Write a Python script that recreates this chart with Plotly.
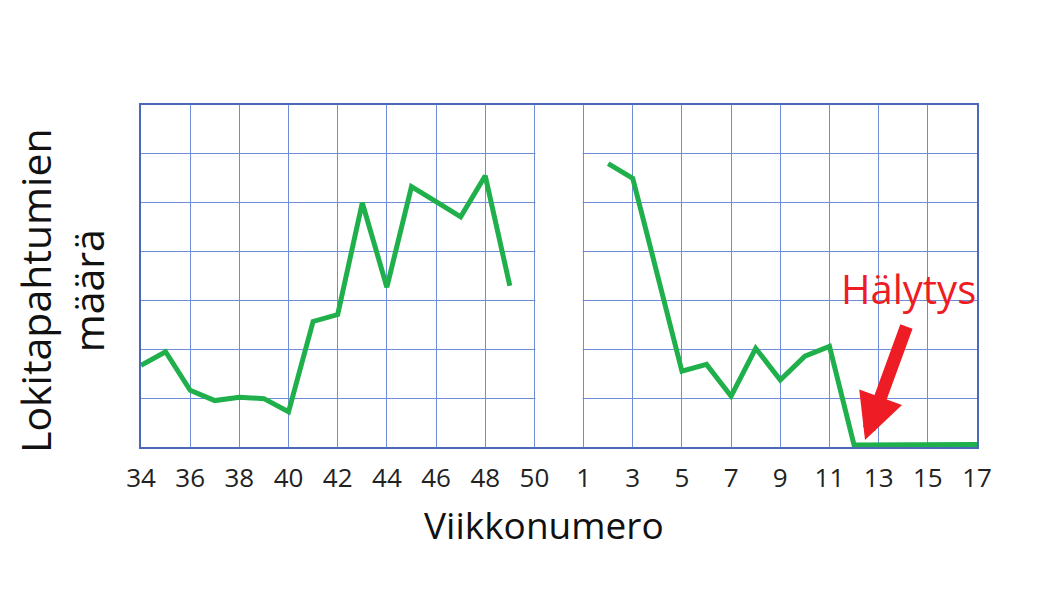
import plotly.graph_objects as go

# Axis categories (week numbers in order shown on the axis)
axis_weeks = [str(w) for w in range(34, 52)] + [str(w) for w in range(1, 18)]
tick_labels = [str(w) for w in range(34, 51, 2)] + [str(w) for w in range(1, 18, 2)]

# Series: log events per week (two seasons separated by a gap)
weeks_a = [str(w) for w in range(34, 50)]
values_a = [1.67, 1.95, 1.16, 0.95, 1.02, 0.99, 0.72, 2.57, 2.71, 5.0, 3.27,
            5.33, 5.02, 4.71, 5.55, 3.3]
weeks_b = [str(w) for w in range(2, 18)]
values_b = [5.8, 5.5, 3.53, 1.55, 1.69, 1.04, 2.02, 1.37, 1.86, 2.06,
            0.04, 0.04, 0.04, 0.05, 0.05, 0.05]

x_all = weeks_a + ["50"] + weeks_b
y_all = values_a + [None] + values_b

GREEN = "#1fb04c"
GRID = "#6f8dd6"
BORDER = "#4d68bb"
RED = "#ee1c24"
FONT = "Open Sans"

fig = go.Figure()
fig.add_trace(go.Scatter(
    x=x_all, y=y_all, mode="lines",
    line=dict(color=GREEN, width=5),
    connectgaps=False, hoverinfo="skip", showlegend=False,
))

# white band hiding the grid around the year change
fig.add_shape(type="rect", xref="x", yref="y", x0=16.04, x1=17.96, y0=0.02, y1=6.98,
              fillcolor="white", line=dict(width=0), layer="above")

fig.update_xaxes(
    type="category", categoryorder="array", categoryarray=axis_weeks,
    range=[0, 34], tickvals=tick_labels, ticktext=tick_labels,
    showgrid=True, gridcolor=GRID, gridwidth=1,
    showline=True, linecolor=BORDER, linewidth=2, mirror=True,
    ticks="", ticklabelstandoff=7,
    tickfont=dict(family=FONT, size=26, color="#222222"),
    zeroline=False,
)
fig.update_yaxes(
    range=[0, 7], dtick=1, showticklabels=False,
    showgrid=True, gridcolor=GRID, gridwidth=1,
    showline=True, linecolor=BORDER, linewidth=2, mirror=True,
    ticks="", zeroline=False,
)

fig.add_annotation(text="Viikkonumero", xref="paper", yref="paper",
                   x=(544 - 141) / 836, y=(447 - 524) / 342,
                   xanchor="center", yanchor="middle", showarrow=False,
                   font=dict(family=FONT, size=37, color="#111111"))
fig.add_annotation(text="Lokitapahtumien<br>määrä", xref="paper", yref="paper",
                   x=(61 - 141) / 836, y=(447 - 291) / 342, textangle=-90,
                   xanchor="center", yanchor="middle", showarrow=False,
                   font=dict(family=FONT, size=41, color="#111111"))
fig.add_annotation(text="Hälytys", xref="paper", yref="paper",
                   x=(908 - 141) / 836, y=(447 - 288) / 342,
                   xanchor="center", yanchor="middle", showarrow=False,
                   font=dict(family=FONT, size=40, color=RED))
fig.add_annotation(text="", xref="paper", yref="paper",
                   x=(865 - 141) / 836, y=(447 - 440) / 342,
                   ax=42, ay=-115, showarrow=True,
                   arrowhead=2, arrowsize=0.7, arrowwidth=13, arrowcolor=RED,
                   standoff=0)

# the page body adds an 8px offset, so margins are set to land the plot area
# at x 141..977, y 105..447 in the window
fig.update_layout(
    width=1044, height=602,
    margin=dict(l=133, r=75, t=97, b=163, autoexpand=False),
    paper_bgcolor="white", plot_bgcolor="white",
    font=dict(family=FONT),
)

fig.write_html("out.html")
